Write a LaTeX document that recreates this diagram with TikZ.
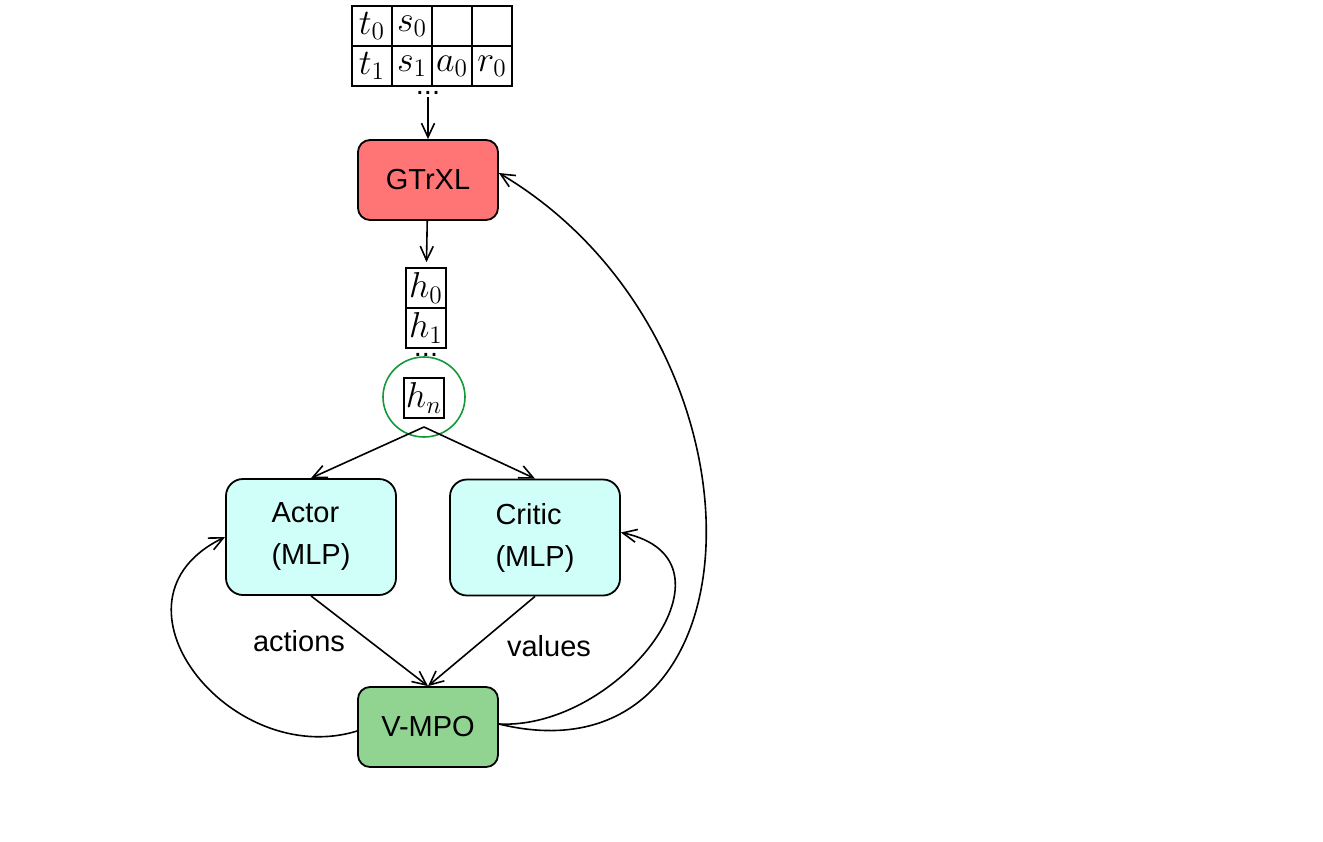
\documentclass[tikz,border=0pt]{standalone}
\usepackage{fix-cm}
\usepackage[no-math]{fontspec}
\setmainfont{Liberation Sans}
\usepackage{amsmath}
\usepackage{xcolor}
\usetikzlibrary{positioning, arrows.meta, shapes.geometric}
\definecolor{gtrxlred}{HTML}{FF7575}
\definecolor{mlpcyan}{HTML}{CFFFF8}
\definecolor{vmpogreen}{HTML}{91D390}
\definecolor{ringgreen}{HTML}{11993A}
\tikzset{
  cell/.style={draw, line width=0.9pt, minimum size=20pt, inner sep=0pt, font=\fontsize{18}{20}\selectfont},
  block/.style={draw, line width=0.9pt, rounded corners=6pt},
  arr/.style={-{Straight Barb[length=7pt,width=6.5pt]}, line width=0.8pt},
}

\begin{document}
\begin{tikzpicture}[x=0.5pt, y=-0.5pt, font=\fontsize{14.5}{21}\selectfont]
\useasboundingbox (0,0) rectangle (1323,841);
% trajectory table
\foreach \name/\lbl [count=\i from 0] in {t0/t_0, s0/s_0, e0/{}, e1/{}}{\node[cell] (\name) at (372+40*\i,26) {$\lbl$};}
\foreach \name/\lbl [count=\i from 0] in {t1/t_1, s1/s_1, a0/a_0, r0/r_0}{\node[cell] (\name) at (372+40*\i,66) {$\lbl$};}
\node[inner sep=0pt] (tdots) at (428,93) {...};
\coordinate (tin) at (428,97);
\node[block, fill=gtrxlred, minimum width=70pt, minimum height=40pt] (gtrxl) at (428,180) {GTrXL};
\draw[arr] (tin) -- (gtrxl); % table to GTrXL
% hidden states
\node[cell] (h0) at (426,288) {$h_0$};
\node[cell] (h1) at (426,328) {$h_1$};
\node[inner sep=0pt] (hdots) at (426,355) {...};
\node[cell] (hn) at (424,398) {$h_n$};
\node[draw=ringgreen, line width=0.8pt, ellipse, minimum width=41pt, minimum height=40pt] (ring) at (424,397) {};
\coordinate (split) at (424,427);
\draw[arr, shorten >=2.5pt] (gtrxl) -- (h0); % GTrXL to states
% heads
\node[block, fill=mlpcyan, rounded corners=8.5pt, minimum width=85pt, minimum height=58pt, align=left] (actor) at (311,537) {Actor\\(MLP)};
\node[block, fill=mlpcyan, rounded corners=8.5pt, minimum width=85pt, minimum height=58pt, align=left] (critic) at (535,537.5) {Critic\\(MLP)};
\node[block, fill=vmpogreen, minimum width=70pt, minimum height=40pt] (vmpo) at (428,727) {V-MPO};
\draw[arr] (split) -- (actor.north);
\draw[arr] (split) -- (critic.north);
\draw[arr] (actor.south) -- (vmpo.north);
\draw[arr] (critic.south) -- (vmpo.north);
\node (actlbl) at (299,641) {actions};
\node (vallbl) at (549,646) {values};
% update loops
\draw[arr] ([yshift=-2pt]vmpo.west) .. controls (230,770) and (95,600) .. (actor.west); % V-MPO to actor
\draw[arr] ([yshift=1.5pt]vmpo.east) .. controls (620,730) and (750,560) .. ([yshift=2.5pt]critic.east); % V-MPO to critic
\draw[arr] ([yshift=1.5pt]vmpo.east) .. controls (770,790) and (780,340) .. ([yshift=3.5pt]gtrxl.east); % V-MPO to GTrXL
\end{tikzpicture}
\end{document}
